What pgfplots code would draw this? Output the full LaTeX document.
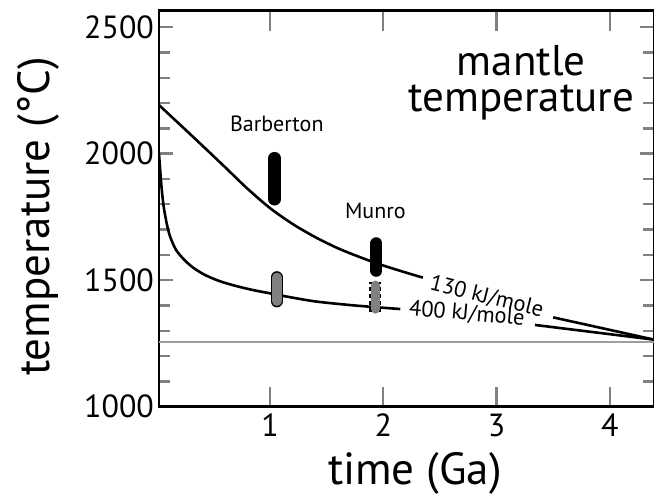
\documentclass[border=0pt]{standalone}
\usepackage{fontspec}
\setmainfont{PT Sans}
\usepackage{pgfplots}
\pgfplotsset{compat=1.18}

\begin{document}
\begin{tikzpicture}
\begin{axis}[
  at={(0,0)}, anchor=south west,
  scale only axis, width=247.5pt, height=198pt,
  xmin=0.02, xmax=4.39, ymin=1000, ymax=2565,
  xtick={1,2,3,4}, ytick={1000,1500,2000,2500},
  minor y tick num=4,
  tick align=inside,
  axis line style={line width=1.4pt},
  xtick style={line width=1.2pt, /pgfplots/major tick length=10pt},
  ytick style={line width=1.2pt, /pgfplots/major tick length=7pt},
  minor tick length=5.5pt,
  /pgf/number format/assume math mode=true,
  /pgf/number format/1000 sep={},
  ticklabel style={font=\fontsize{16}{19}\selectfont},
  yticklabel style={xshift=1pt},
  xlabel={time (Ga)}, ylabel={temperature (°C)},
  label style={font=\fontsize{22.5}{26}\selectfont, inner sep=0pt},
  xlabel style={at={(axis description cs:0.517,-0.168)}, anchor=center},
  ylabel style={at={(axis description cs:-0.244,0.48)}, anchor=center},
]
% present-day mantle
\addplot[black!38, line width=1pt] coordinates {(0.02,1255) (4.39,1255)};

% 130 kJ/mole
\addplot[black, line width=1.3pt, smooth] coordinates {
(0.02,2192) (0.2,2117) (0.4,2033) (0.6,1948) (0.8,1862) (1.0,1785)
(1.2,1722) (1.4,1670) (1.6,1626) (1.8,1590) (2.0,1558) (2.2,1530)
(2.35,1510)};
\addplot[black, line width=1.3pt] coordinates {(3.50,1353) (4.39,1265)};

% 400 kJ/mole
\addplot[black, line width=1.3pt, smooth] coordinates {
(0.02,2000) (0.04,1880) (0.06,1795) (0.09,1720) (0.12,1670) (0.17,1620)
(0.24,1582) (0.32,1550) (0.42,1522) (0.55,1497) (0.7,1477) (0.85,1461)
(1.0,1448) (1.15,1435) (1.4,1416) (1.7,1402) (1.94,1393) (2.15,1386)};
\addplot[black, line width=1.3pt] coordinates {(3.34,1323) (4.39,1265)};

% Barberton
\addplot[black, line width=6.3pt, line cap=round] coordinates {(1.04,1820) (1.04,1982)};
\addplot[black, line width=6.2pt, line cap=round] coordinates {(1.06,1417) (1.06,1511)};
\addplot[black!50, line width=4.8pt, line cap=round] coordinates {(1.06,1417) (1.06,1511)};

% Munro
\addplot[black, line width=6.0pt, line cap=round] coordinates {(1.94,1537) (1.94,1646)};
\addplot[black, line width=6.0pt, dash pattern=on 2pt off 1.5pt] coordinates {(1.93,1374) (1.93,1492)};
\addplot[black!50, line width=4.6pt, line cap=round] coordinates {(1.93,1386) (1.93,1480)};

\node[anchor=base, font=\fontsize{11}{13}\selectfont] at (axis cs:1.06,2087) {Barberton};
\node[anchor=base, font=\fontsize{11}{13}\selectfont] at (axis cs:1.93,1744) {Munro};
\node[anchor=base west, rotate=-14, inner sep=0pt, font=\fontsize{11.2}{13}\selectfont] at (axis cs:2.40,1465) {130 kJ/mole};
\node[anchor=base west, rotate=-5, inner sep=0pt, font=\fontsize{11.2}{13}\selectfont] at (axis cs:2.22,1362) {400 kJ/mole};

\node[anchor=base, inner sep=0pt, font=\fontsize{21.5}{23}\selectfont] at (axis cs:3.218,2310) {mantle};
\node[anchor=base, inner sep=0pt, font=\fontsize{21.5}{23}\selectfont] at (axis cs:3.218,2165) {temperature};
\end{axis}
\pgfresetboundingbox
\path[use as bounding box] (-79.5pt,-44.65pt) rectangle (247.5pt,203.35pt);
\end{tikzpicture}
\end{document}
